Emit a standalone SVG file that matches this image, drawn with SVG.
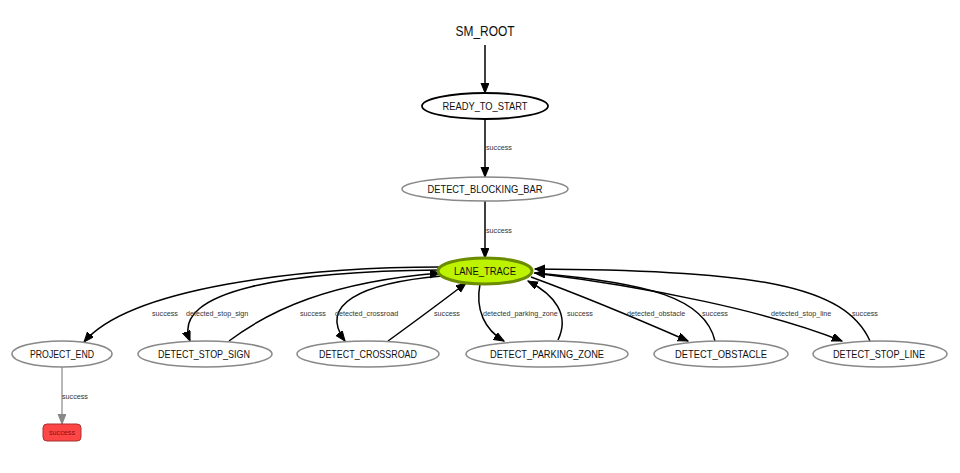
<svg xmlns="http://www.w3.org/2000/svg" width="960" height="473" viewBox="0 0 960 473">
<defs>
<marker id="ah" markerUnits="userSpaceOnUse" markerWidth="12" markerHeight="10" refX="10" refY="4" orient="auto">
<path d="M0,0 L10,4 L0,8 Z" fill="#000" stroke="#000" stroke-width="1"/>
</marker>
<marker id="ahg" markerUnits="userSpaceOnUse" markerWidth="12" markerHeight="10" refX="10" refY="4" orient="auto">
<path d="M0,0 L10,4 L0,8 Z" fill="#888" stroke="#888" stroke-width="1"/>
</marker>
<style>
.n { fill: #fff; stroke: #888; stroke-width: 1.5; }
.t { font-family: "Liberation Sans", Arial, sans-serif; font-size: 11px; fill: #111; text-anchor: middle; }
.e { fill: none; stroke: #000; stroke-width: 1.5; marker-end: url(#ah); }
.l { font-family: "Liberation Sans", Arial, sans-serif; font-size: 7.2px; fill: #333; }
</style>
</defs>
<g id="connectors">
<path class="e" d="M485,45 L485,93"/>
<path class="e" d="M485,119 L485,177"/>
<path class="e" d="M485,201 L485,258"/>
<path class="e" d="M440,267 C300,267 130,288 84,342"/>
<path class="e" d="M440,270 C290,271 170,290 190,341"/>
<path class="e" d="M229,341 C270,310 330,282 440,273"/>
<path class="e" d="M442,276 C360,283 318,305 345,341"/>
<path class="e" d="M388,341 C410,325 440,303 466,283"/>
<path class="e" d="M480,284 C475,310 485,330 504,341"/>
<path class="e" d="M558,340 C570,315 555,295 528,281"/>
<path class="e" d="M531,277 C580,295 640,320 688,341"/>
<path class="e" d="M715,341 C705,298 650,283 535,273"/>
<path class="e" d="M534,273 C650,287 770,312 842,341"/>
<path class="e" d="M870,341 C845,286 760,270 535,269"/>
<path d="M62,367 L62,424" fill="none" stroke="#888" stroke-width="1.2" marker-end="url(#ahg)"/>
<text class="l" x="486" y="150">success</text>
<text class="l" x="486" y="233">success</text>
<text class="l" x="152" y="316">success</text>
<text class="l" x="186" y="316">detected_stop_sign</text>
<text class="l" x="300" y="316">success</text>
<text class="l" x="335" y="316">detected_crossroad</text>
<text class="l" x="434" y="316">success</text>
<text class="l" x="483" y="316">detected_parking_zone</text>
<text class="l" x="567" y="316">success</text>
<text class="l" x="627" y="316">detected_obstacle</text>
<text class="l" x="702" y="316">success</text>
<text class="l" x="771" y="316">detected_stop_line</text>
<text class="l" x="852" y="316">success</text>
<text class="l" x="62" y="399">success</text>
</g>
<g id="SM_ROOT">
<text class="t" x="485" y="36" style="font-size:14px" textLength="59" lengthAdjust="spacingAndGlyphs">SM_ROOT</text>
</g>
<g id="READY_TO_START">
<ellipse cx="485" cy="106" rx="63" ry="13" fill="#fff" stroke="#000" stroke-width="1.8"/>
<text class="t" x="485" y="110" textLength="85" lengthAdjust="spacingAndGlyphs">READY_TO_START</text>
</g>
<g id="DETECT_BLOCKING_BAR">
<ellipse class="n" cx="485" cy="189" rx="83" ry="12"/>
<text class="t" x="485" y="193" textLength="115" lengthAdjust="spacingAndGlyphs">DETECT_BLOCKING_BAR</text>
</g>
<g id="LANE_TRACE">
<ellipse cx="485" cy="271" rx="47" ry="13" fill="#bdf200" stroke="#6b8c00" stroke-width="3"/>
<text class="t" x="485" y="275" textLength="62" lengthAdjust="spacingAndGlyphs">LANE_TRACE</text>
</g>
<g id="PROJECT_END">
<ellipse class="n" cx="62" cy="354" rx="50" ry="13"/>
<text class="t" x="62" y="358" textLength="64" lengthAdjust="spacingAndGlyphs">PROJECT_END</text>
</g>
<g id="DETECT_STOP_SIGN">
<ellipse class="n" cx="205" cy="354" rx="67" ry="13"/>
<text class="t" x="204" y="358" textLength="92" lengthAdjust="spacingAndGlyphs">DETECT_STOP_SIGN</text>
</g>
<g id="DETECT_CROSSROAD">
<ellipse class="n" cx="368" cy="354" rx="71" ry="13"/>
<text class="t" x="368" y="358" textLength="98" lengthAdjust="spacingAndGlyphs">DETECT_CROSSROAD</text>
</g>
<g id="DETECT_PARKING_ZONE">
<ellipse class="n" cx="547" cy="354" rx="81" ry="13"/>
<text class="t" x="547" y="358" textLength="114" lengthAdjust="spacingAndGlyphs">DETECT_PARKING_ZONE</text>
</g>
<g id="DETECT_OBSTACLE">
<ellipse class="n" cx="721" cy="354" rx="67" ry="13"/>
<text class="t" x="721" y="358" textLength="92" lengthAdjust="spacingAndGlyphs">DETECT_OBSTACLE</text>
</g>
<g id="DETECT_STOP_LINE">
<ellipse class="n" cx="880" cy="354" rx="67" ry="13"/>
<text class="t" x="879" y="358" textLength="92" lengthAdjust="spacingAndGlyphs">DETECT_STOP_LINE</text>
</g>
<g id="success">
<rect x="43" y="424" width="38" height="17" rx="4" ry="4" fill="#ff4646" stroke="#a83030" stroke-width="1"/>
<text class="t" x="62" y="435" style="font-size:7.5px;fill:#8b1010" textLength="26" lengthAdjust="spacingAndGlyphs">success</text>
</g>
</svg>
